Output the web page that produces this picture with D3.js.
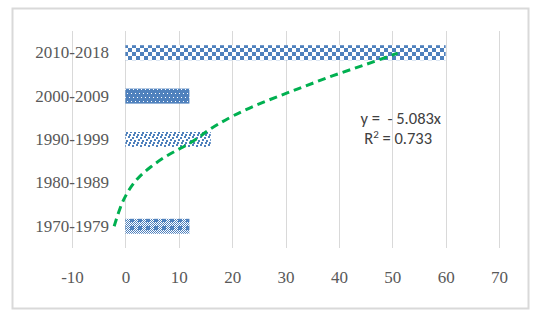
<!DOCTYPE html>
<html>
<head>
<meta charset="utf-8">
<script src="https://cdn.jsdelivr.net/npm/d3@7"></script>
<style>
  body { margin: 0; background: #fff; }
</style>
</head>
<body>
<div id="container"></div>
<script>
// categories listed bottom to top, as in the chart
let categories = ["1970-1979", "1980-1989", "1990-1999", "2000-2009", "2010-2018"];
let values = [12, 0, 16, 12, 60];
let patterns = ["pBigGrid", "none", "pConfetti", "pDots", "pChecker"];
let xTicks = [-10, 0, 10, 20, 30, 40, 50, 60, 70];

// trendline: position along the category axis (0 = bottom) and value
let trendPos = [0, 0.44, 0.78, 1.11, 1.36, 1.64, 1.82, 2.05, 2.17, 2.56, 2.90, 3.18, 3.48, 3.73, 3.99];
let trendVal = [-2.1, -1.0, 0.3, 2.2, 4.6, 7.8, 10.8, 13.9, 14.9, 20.1, 26.5, 32.7, 38.9, 45.2, 51.0];

let w = 543;
let h = 320;
let blue = "#4f81bd";
let grey = "#595959";

let viz = d3.select("#container")
  .append("svg")
    .attr("width", w)
    .attr("height", h)
    .style("display", "block")
;

// chart frame
viz.append("rect")
  .attr("x", 12.5).attr("y", 8.5)
  .attr("width", 516).attr("height", 300)
  .attr("fill", "white")
  .attr("stroke", "#d9d9d9")
  .attr("stroke-width", 2)
;

// fill patterns
let defs = viz.append("defs");

// large checkerboard
let pc = defs.append("pattern").attr("id", "pChecker")
  .attr("patternUnits", "userSpaceOnUse").attr("width", 8).attr("height", 8);
pc.append("rect").attr("width", 8).attr("height", 8).attr("fill", "white");
pc.append("rect").attr("x", 0).attr("y", 0).attr("width", 4).attr("height", 4).attr("fill", blue);
pc.append("rect").attr("x", 4).attr("y", 4).attr("width", 4).attr("height", 4).attr("fill", blue);

// blue with small white dots
let pd = defs.append("pattern").attr("id", "pDots")
  .attr("patternUnits", "userSpaceOnUse").attr("width", 4).attr("height", 8);
pd.append("rect").attr("width", 4).attr("height", 8).attr("fill", blue);
pd.append("rect").attr("x", 1).attr("y", 1).attr("width", 1).attr("height", 1).attr("fill", "white");
pd.append("rect").attr("x", 3).attr("y", 5).attr("width", 1).attr("height", 1).attr("fill", "white");

// small confetti
let pf = defs.append("pattern").attr("id", "pConfetti")
  .attr("patternUnits", "userSpaceOnUse").attr("width", 8).attr("height", 8);
pf.append("rect").attr("width", 8).attr("height", 8).attr("fill", "white");
[[0,0],[4,1],[2,3],[6,4],[1,6],[5,6]].forEach(function(p){
  pf.append("rect").attr("x", p[0]).attr("y", p[1]).attr("width", 2).attr("height", 2).attr("fill", blue);
});

// large grid of squares with fine checker between
let pg = defs.append("pattern").attr("id", "pBigGrid")
  .attr("patternUnits", "userSpaceOnUse").attr("width", 8).attr("height", 8);
pg.append("rect").attr("width", 8).attr("height", 8).attr("fill", "white");
for (let i = 0; i < 8; i++) {
  for (let j = 0; j < 8; j++) {
    if ((i + j) % 2 == 0) {
      pg.append("rect").attr("x", i).attr("y", j).attr("width", 1).attr("height", 1).attr("fill", blue);
    }
  }
}
pg.append("rect").attr("x", 2).attr("y", 2).attr("width", 4).attr("height", 4).attr("fill", blue);

// scales
let xScale = d3.scaleLinear().domain([-10, 70]).range([72, 499]);
let yScale = d3.scaleBand().domain(categories.slice().reverse()).range([31, 248]);
let posScale = d3.scaleLinear().domain([-0.5, 4.5]).range([248, 31]);

// gridlines
viz.append("g").selectAll("line")
  .data(xTicks)
  .enter()
  .append("line")
    .attr("x1", function(d){ return Math.round(xScale(d)) + 0.5; })
    .attr("x2", function(d){ return Math.round(xScale(d)) + 0.5; })
    .attr("y1", 31)
    .attr("y2", 248)
    .attr("stroke", "#d9d9d9")
    .attr("stroke-width", 1)
;

// x tick labels (plain hyphen for the minus, like the original)
let xAxis = d3.axisBottom(xScale)
  .tickValues(xTicks)
  .tickFormat(function(d){ return String(d); })
  .tickSize(0)
  .tickPadding(0);
let xAxisGroup = viz.append("g").attr("transform", "translate(0, 271)").call(xAxis);
xAxisGroup.select(".domain").remove();
xAxisGroup.selectAll("text")
  .attr("font-family", "'Liberation Serif', 'Times New Roman', serif")
  .attr("font-size", "17px")
  .attr("fill", grey)
;

// category labels
let yAxis = d3.axisLeft(yScale).tickSize(0).tickPadding(0);
let yAxisGroup = viz.append("g").attr("transform", "translate(109, 0)").call(yAxis);
yAxisGroup.select(".domain").remove();
yAxisGroup.selectAll("text")
  .attr("font-family", "'Liberation Serif', 'Times New Roman', serif")
  .attr("font-size", "17px")
  .attr("fill", grey)
;

// bars
let barH = 15;
let barData = categories.map(function(c, i){
  return {cat: c, value: values[i], pattern: patterns[i]};
}).filter(function(d){ return d.value > 0; });

viz.append("g").selectAll("rect")
  .data(barData)
  .enter()
  .append("rect")
    .attr("x", xScale(0))
    .attr("y", function(d){ return yScale(d.cat) + yScale.bandwidth() / 2 - barH / 2; })
    .attr("width", function(d){ return xScale(d.value) - xScale(0); })
    .attr("height", barH)
    .attr("fill", function(d){ return "url(#" + d.pattern + ")"; })
;

// trendline
let trendData = trendPos.map(function(p, i){ return [p, trendVal[i]]; });
let line = d3.line()
  .x(function(d){ return xScale(d[1]); })
  .y(function(d){ return posScale(d[0]); })
  .curve(d3.curveBasis);

viz.append("path")
  .datum(trendData)
  .attr("d", line)
  .attr("fill", "none")
  .attr("stroke", "#00b050")
  .attr("stroke-width", 3)
  .attr("stroke-dasharray", "8,5")
;

// trendline equation
let eq = viz.append("g")
  .attr("font-family", "Carlito, 'Liberation Sans', sans-serif")
  .attr("font-size", "16.5px")
  .attr("fill", "#404040")
;
eq.append("text")
  .attr("x", 441).attr("y", 124)
  .attr("text-anchor", "end")
  .attr("xml:space", "preserve")
  .style("white-space", "pre")
  .text("y =  - 5.083x");
let r2 = eq.append("text")
  .attr("x", 432).attr("y", 144)
  .attr("text-anchor", "end");
r2.append("tspan").text("R");
r2.append("tspan").attr("font-size", "11px").attr("dy", -6).text("2");
r2.append("tspan").attr("dy", 6).text(" = 0.733");
</script>
</body>
</html>
